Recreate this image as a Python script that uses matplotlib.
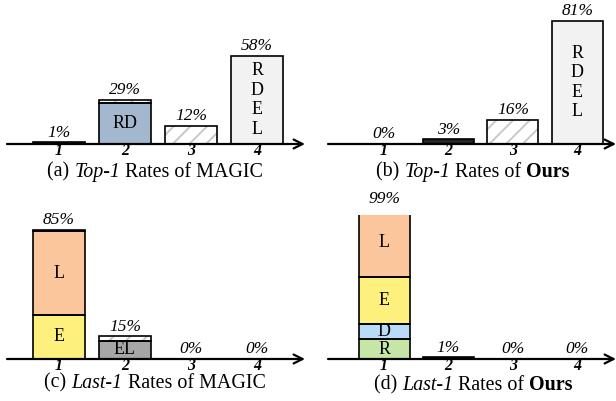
import matplotlib
matplotlib.use( 'Agg' )
import matplotlib.pyplot as plt

plt.rcParams[ 'font.family' ] = [ 'Liberation Serif', 'DejaVu Serif' ]
plt.rcParams[ 'hatch.linewidth' ] = 1.4

ranks = [ '1', '2', '3', '4' ]

# stacked segments per rank: (label, value); '' = other (hatched), '-' = tiny dark bar
top1_magic  = [ [ ( '-', 1 ) ], [ ( 'RD', 27 ), ( '', 2 ) ], [ ( '', 12 ) ], [ ( 'R\nD\nE\nL', 58 ) ] ]
top1_ours   = [ [], [ ( '-', 3 ) ], [ ( '', 16 ) ], [ ( 'R\nD\nE\nL', 81 ) ] ]
last1_magic = [ [ ( 'E', 29 ), ( 'L', 55 ), ( '', 1 ) ], [ ( 'EL', 12 ), ( '', 3 ) ], [], [] ]
last1_ours  = [ [ ( 'R', 13 ), ( 'D', 10 ), ( 'E', 31 ), ( 'L', 45 ) ], [ ( '-', 1 ) ], [], [] ]

totals_top1_magic  = [ 1, 29, 12, 58 ]
totals_top1_ours   = [ 0, 3, 16, 81 ]
totals_last1_magic = [ 85, 15, 0, 0 ]
totals_last1_ours  = [ 99, 1, 0, 0 ]

_COLORS = {
    'RD': '#a3b7cf',
    'R\nD\nE\nL': '#f2f2f2',
    'L': '#fcc69c',
    'E': '#fdf07d',
    'D': '#b9dbf9',
    'R': '#c5e6a6',
    'EL': '#a6a6a6',
    '-': '#262626',
    '': 'white',
}

W, H = 616, 401
fig = plt.figure( figsize = ( W / 100, H / 100 ), dpi = 100 )


def make_axes( left_px, width_px, axis_y_px, xlim ):
    ax = fig.add_axes( [ left_px / W, ( H - axis_y_px ) / H, width_px / W, 144.4 / H ] )
    ax.set_xlim( *xlim )
    ax.set_ylim( 0, 95 )
    for s in ax.spines.values():
        s.set_visible( False )
    ax.set_yticks( [] )
    ax.set_xticks( range( 1, 5 ) )
    ax.set_xticklabels( ranks, fontsize = 11.5, fontweight = 'bold', style = 'italic' )
    ax.tick_params( axis = 'x', length = 0, pad = -0.5 )
    ax.patch.set_alpha( 0 )
    ax.annotate( '', xy = ( 1, 0 ), xycoords = 'axes fraction', xytext = ( 0, 0 ),
                 textcoords = 'axes fraction',
                 arrowprops = dict( arrowstyle = '->', lw = 1.6, color = 'black',
                                    mutation_scale = 16, shrinkA = 0, shrinkB = 0 ),
                 annotation_clip = False, zorder = 5 )
    return ax


def draw_panel( ax, stacks, totals ):
    bw = 0.79
    for i, segs in enumerate( stacks ):
        x = i + 1
        bottom = 0
        for lab, val in segs:
            if lab == '':
                ax.bar( x, val, bw, bottom = bottom, color = 'white', edgecolor = '#c8c8c8',
                        hatch = '//', linewidth = 0, zorder = 2 )
            else:
                ax.bar( x, val, bw, bottom = bottom, color = _COLORS[ lab ], linewidth = 0, zorder = 2 )
            ax.bar( x, val, bw, bottom = bottom, fill = False, edgecolor = 'black',
                    linewidth = 1.2, zorder = 3 )
            if lab not in ( '', '-' ):
                ax.text( x, bottom + val / 2, lab, ha = 'center', va = 'center',
                         fontsize = 13, linespacing = 1.2, zorder = 4 )
            bottom += val
        ax.text( x, totals[ i ] + 1.0, f'{totals[ i ]}%', ha = 'center', va = 'bottom',
                 fontsize = 12.5, style = 'italic', zorder = 4 )


def rich_caption( xc_px, yc_px, parts, size = 14.4 ):
    r = fig.canvas.get_renderer()
    texts = []
    widths = []
    for s, style, weight in parts:
        t = fig.text( 0, 0, s, fontsize = size, style = style, fontweight = weight,
                      va = 'center', ha = 'left' )
        texts.append( t )
        widths.append( t.get_window_extent( renderer = r ).width )
    x = xc_px - sum( widths ) / 2
    for t, w in zip( texts, widths ):
        t.set_position( ( x / W, ( H - yc_px ) / H ) )
        x += w


ax_a = make_axes( 7, 298, 144, ( 0.212, 4.727 ) )
ax_b = make_axes( 328, 288, 144, ( 0.13, 4.6 ) )
ax_c = make_axes( 7, 298, 359, ( 0.212, 4.727 ) )
ax_d = make_axes( 328, 288, 359, ( 0.13, 4.6 ) )

draw_panel( ax_a, top1_magic, totals_top1_magic )
draw_panel( ax_b, top1_ours, totals_top1_ours )
draw_panel( ax_c, last1_magic, totals_last1_magic )
draw_panel( ax_d, last1_ours, totals_last1_ours )

rich_caption( 155, 172, [ ( '(a) ', 'normal', 'normal' ), ( 'Top-1', 'italic', 'normal' ),
                          ( ' Rates of MAGIC', 'normal', 'normal' ) ] )
rich_caption( 473, 172, [ ( '(b) ', 'normal', 'normal' ), ( 'Top-1', 'italic', 'normal' ),
                          ( ' Rates of ', 'normal', 'normal' ), ( 'Ours', 'normal', 'bold' ) ] )
rich_caption( 155, 383, [ ( '(c) ', 'normal', 'normal' ), ( 'Last-1', 'italic', 'normal' ),
                          ( ' Rates of MAGIC', 'normal', 'normal' ) ] )
rich_caption( 473, 385, [ ( '(d) ', 'normal', 'normal' ), ( 'Last-1', 'italic', 'normal' ),
                          ( ' Rates of ', 'normal', 'normal' ), ( 'Ours', 'normal', 'bold' ) ] )

fig.savefig( 'out.png', dpi = 100 )
